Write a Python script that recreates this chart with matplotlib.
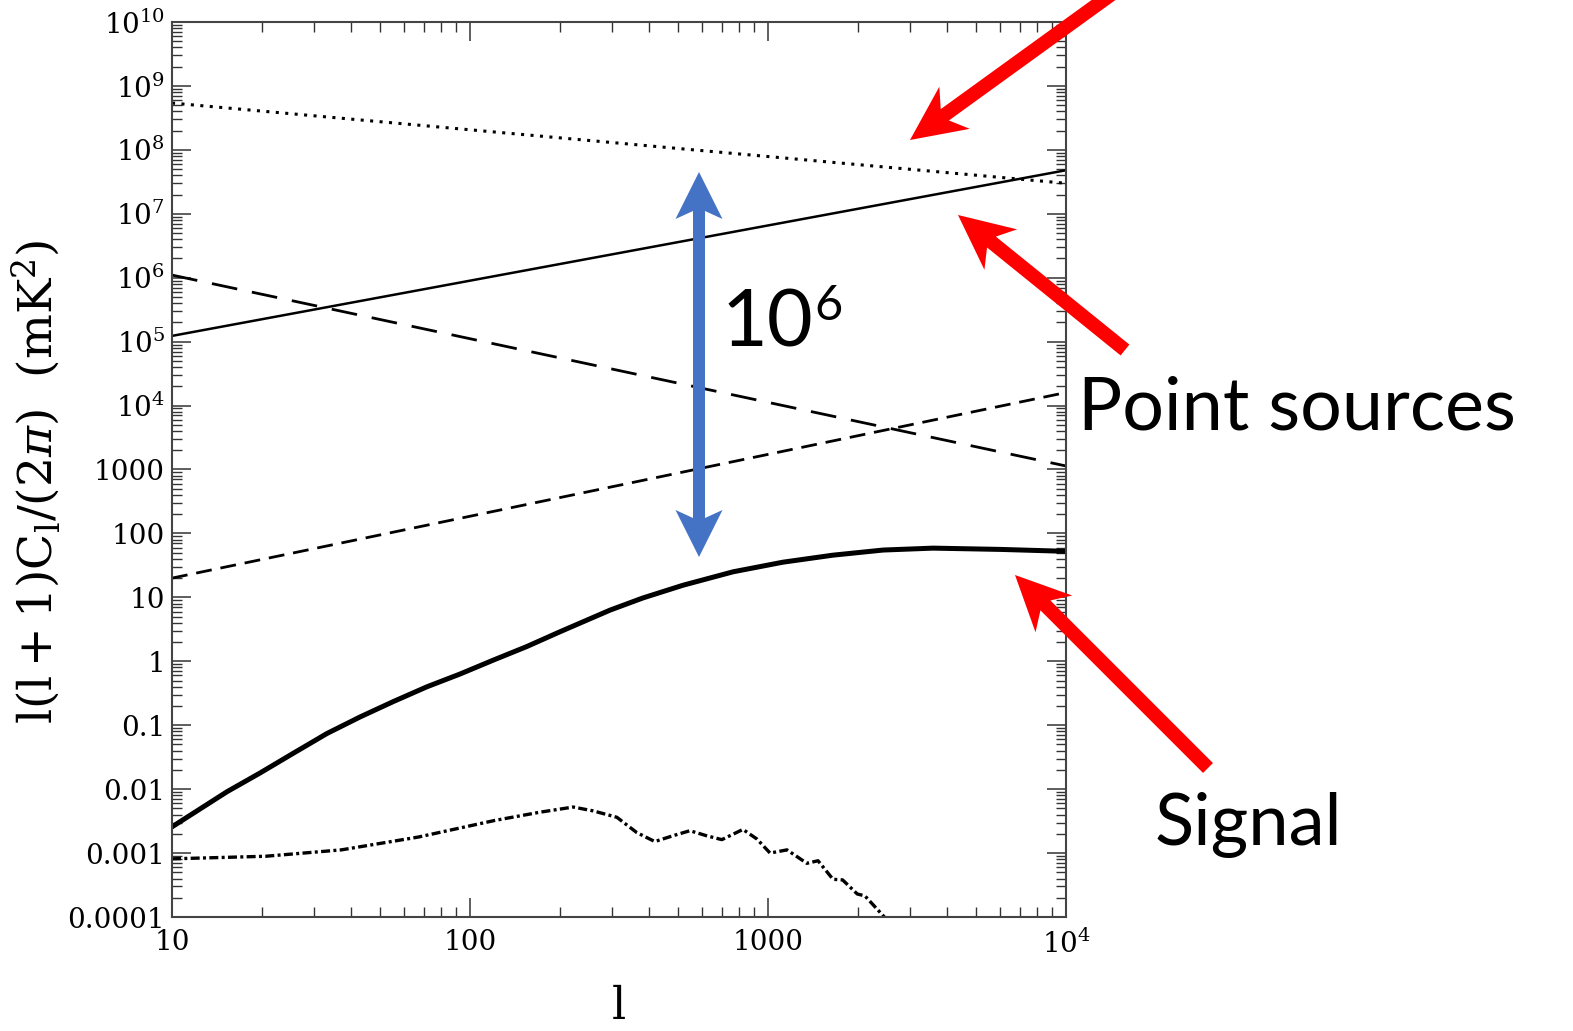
import numpy as np
import matplotlib
matplotlib.use("Agg")
import matplotlib.pyplot as plt
from matplotlib.ticker import LogLocator, FuncFormatter, NullFormatter
from matplotlib.patches import Polygon

plt.rcParams['mathtext.fontset'] = 'dejavuserif'
plt.rcParams['font.family'] = 'DejaVu Serif'

W, H = 1573, 1031

# Foreground power laws (straight in log-log), read at the plot edges
ell_edges = [10, 1e4]
dotted_vals = [5.4e8, 3.0e7]
ps_solid_vals = [1.23e5, 4.8e7]
long_dash_vals = [1.1e6, 1135]
short_dash_vals = [20, 1.6e4]

# Signal curve (thick solid): log10 values
signal_ell = [10, 15.3, 19.7, 25.5, 33.1, 42.8, 55.3, 71.6, 92.5, 120, 155, 200, 295,
              380, 519, 764, 1122, 1652, 2432, 3580, 6030, 10000]
signal_log = [-2.59, -2.04, -1.75, -1.44, -1.13, -0.87, -0.63, -0.40, -0.20, 0.02, 0.23,
              0.46, 0.80, 0.99, 1.19, 1.40, 1.55, 1.66, 1.74, 1.77, 1.75, 1.72]

# Dash-dot curve: log10 values
dd_ell = [10, 20.6, 37, 67, 121, 172, 222, 259, 311, 363, 417, 479, 547, 623, 700,
          824, 918, 1016, 1158, 1350, 1472, 1652, 1780, 1993, 2115, 2457]
dd_log = [-3.09, -3.05, -2.95, -2.75, -2.49, -2.36, -2.28, -2.34, -2.44, -2.68, -2.82, -2.73,
          -2.65, -2.73, -2.79, -2.63, -2.78, -3.00, -2.95, -3.16, -3.12, -3.41, -3.42,
          -3.64, -3.67, -4.00]

fig = plt.figure(figsize=(W / 100, H / 100), dpi=100)
ax = fig.add_axes([172 / W, 1 - 917 / H, (1066 - 172) / W, (917 - 22) / H])

ax.plot(ell_edges, dotted_vals, color='black', lw=2.2, linestyle=(0, (1, 2.1)))
ax.plot(ell_edges, ps_solid_vals, color='black', lw=1.8)
ax.plot(ell_edges, long_dash_vals, color='black', lw=2.0, linestyle=(0, (9.3, 5.4)))
ax.plot(ell_edges, short_dash_vals, color='black', lw=2.0, linestyle=(0, (5.7, 3.2)))
ax.plot(signal_ell, 10 ** np.array(signal_log), color='black', lw=3.6)
ax.plot(dd_ell, 10 ** np.array(dd_log), color='black', lw=2.4,
        linestyle=(0, (2.7, 1, 0.9, 1)))

ax.set_xscale('log')
ax.set_yscale('log')
ax.set_xlim(10, 1e4)
ax.set_ylim(1e-4, 1e10)


def fmt(v, pos):
    e = int(round(np.log10(v)))
    if e >= 4:
        return r'$10^{%d}$' % e
    if e >= 0:
        return '%d' % round(v)
    return ('%.' + str(-e) + 'f') % v


for axis in (ax.xaxis, ax.yaxis):
    axis.set_major_locator(LogLocator(base=10, numticks=30))
    axis.set_minor_locator(LogLocator(base=10, subs=np.arange(2, 10), numticks=300))
    axis.set_major_formatter(FuncFormatter(fmt))
    axis.set_minor_formatter(NullFormatter())

ax.tick_params(which='both', direction='in', top=True, right=True, colors='#333333')
ax.tick_params(which='major', length=14, width=1.1, labelsize=20, labelcolor='black')
ax.tick_params(which='minor', length=7, width=1.0)
ax.tick_params(axis='y', pad=5)
ax.tick_params(axis='x', pad=9)
for s in ax.spines.values():
    s.set_color('#444444')
    s.set_linewidth(1.5)

ax.set_xlabel('l', fontsize=32, va='top')
ax.xaxis.set_label_coords(0.5, -0.076)
ax.set_ylabel(r'$\mathrm{l(l+1)C_l/(2}\pi\mathrm{)\ \ (mK^2)}$', fontsize=34)
ax.yaxis.set_label_coords(-0.123, 0.486)


def arrow_poly(tail, tip, shaft, head_w, head_len, notch, double=False):
    p0 = np.array(tail, float)
    p1 = np.array(tip, float)
    d = (p1 - p0) / np.linalg.norm(p1 - p0)
    n = np.array([-d[1], d[0]])

    def head(t, dd, nn):
        neck = t - dd * (head_len - notch)
        base = t - dd * head_len
        return [neck + nn * shaft / 2, base + nn * head_w / 2, t,
                base - nn * head_w / 2, neck - nn * shaft / 2]

    if double:
        pts = head(p1, d, n) + head(p0, -d, -n)
    else:
        pts = [p0 + n * shaft / 2] + head(p1, d, n) + [p0 - n * shaft / 2]
    return [(x / W, 1 - y / H) for x, y in pts]


red = '#FF0000'
for tail, tip in [((1145, -30), (910, 140)), ((1125, 350), (958, 215)), ((1208, 768), (1015, 575))]:
    fig.add_artist(Polygon(arrow_poly(tail, tip, 14, 52, 55, 12), closed=True,
                           transform=fig.transFigure, facecolor=red, edgecolor='none'))

fig.add_artist(Polygon(arrow_poly((699, 557), (699, 172), 12, 47, 47, 8, double=True),
                       closed=True, transform=fig.transFigure,
                       facecolor='#4472C4', edgecolor='none'))

t10 = fig.text(722 / W, 1 - 347 / H, '10', fontsize=57, family='Lato', va='baseline')
fig.canvas.draw()
bb = t10.get_window_extent()
fig.text((bb.x1 + 1) / W, 1 - 320 / H, '6', fontsize=35, family='Lato', va='baseline')
fig.text(1078 / W, 1 - 430 / H, 'Point sources', fontsize=53, family='Lato', va='baseline')
fig.text(1155 / W, 1 - 845 / H, 'Signal', fontsize=52, family='Lato', va='baseline')

fig.savefig('out.png', dpi=100)
